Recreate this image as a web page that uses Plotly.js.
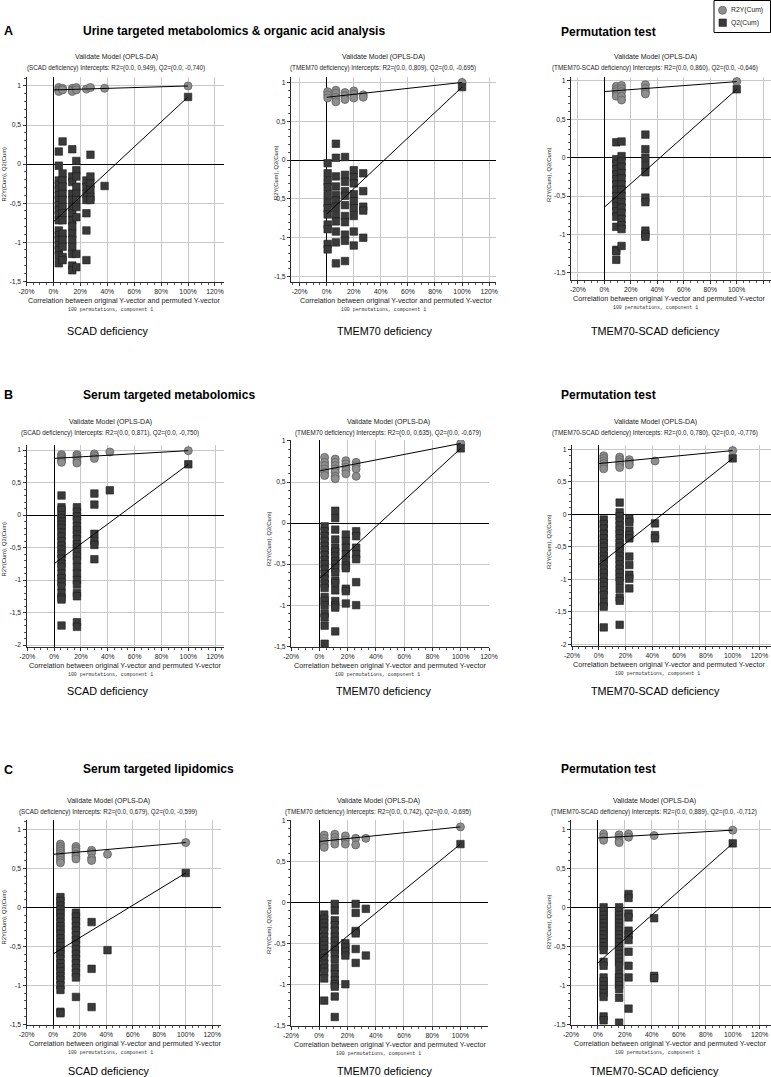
<!DOCTYPE html>
<html>
<head>
<meta charset="utf-8">
<script src="https://cdn.plot.ly/plotly-3.0.1.min.js"></script>
<style>
  html, body { margin: 0; padding: 0; background: #fff; }
  #chart { width: 771px; height: 1077px; }
</style>
</head>
<body>
<div id="chart"></div>
<script>
// ---------------- tick labels ----------------
const xTickVals = [-0.2, 0, 0.2, 0.4, 0.6, 0.8, 1, 1.2];
const xTickText = ['-20%', '0%', '20%', '40%', '60%', '80%', '100%', '120%'];
const yTickVals = [-2, -1.5, -1, -0.5, 0, 0.5, 1];
const yTickText = ['-2', '-1,5', '-1', '-0,5', '0', '0,5', '1'];

const groupNames = ['SCAD deficiency', 'TMEM70 deficiency', 'TMEM70-SCAD deficiency'];
const sectionTitles = ['Urine targeted metabolomics & organic acid analysis', 'Serum targeted metabolomics', 'Serum targeted lipidomics'];
const rowLetters = ['A', 'B', 'C'];

// ---------------- urine targeted metabolomics ----------------
// correlation between original and permuted Y (one entry per column of permutations)
const uScadPerm = [0.04, 0.068, 0.14, 0.17, 0.245, 0.275, 0.38];
const uScadR2 = [[0.98, 0.95, 0.93], [0.97, 0.95], [0.97, 0.95, 0.93], [0.98, 0.95], [0.96], [0.98], [0.97]];
const uScadQ2 = [
  [0.16, -0.02, -0.21, -0.27, -0.33, -0.4, -0.46, -0.53, -0.59, -0.65, -0.72, -0.85, -0.91, -0.97, -1.04, -1.1, -1.17, -1.27],
  [0.29, -0.12, -0.21, -0.29, -0.38, -0.46, -0.55, -0.63, -0.72, -0.89, -0.97, -1.06, -1.19, -1.23],
  [0.19, -0.16, -0.23, -0.38, -0.46, -0.55, -0.63, -0.72, -0.8, -0.89, -0.97, -1.06, -1.15, -1.3, -1.36],
  [0.04, -0.08, -0.16, -0.29, -0.38, -0.46, -0.55, -0.68, -1.15, -1.32],
  [-0.21, -0.29, -0.38, -0.46, -0.63, -0.85, -1.23],
  [0.12, -0.16, -0.25, -0.33, -0.42, -0.46],
  [-0.28]
];
const uScadModel = [1.0, 0.86];      // R2Y(cum), Q2(cum) of the original model
const uScadIcpt = [0.949, -0.740];   // regression intercepts R2, Q2

const uTmemPerm = [0.007, 0.068, 0.135, 0.2, 0.27];
const uTmemR2 = [[0.88, 0.84, 0.8], [0.9, 0.86, 0.81, 0.75], [0.87, 0.83, 0.78], [0.89, 0.85, 0.8], [0.84, 0.81]];
const uTmemQ2 = [
  [-0.04, -0.17, -0.27, -0.35, -0.45, -0.55, -0.62, -0.7, -0.83, -0.89, -1.08, -1.15],
  [0.21, 0.03, -0.21, -0.34, -0.45, -0.52, -0.6, -0.7, -0.79, -0.92, -1.06, -1.33],
  [0.04, -0.19, -0.28, -0.4, -0.46, -0.58, -0.72, -0.8, -0.96, -1.04, -1.3],
  [-0.13, -0.22, -0.3, -0.44, -0.53, -0.62, -0.72, -0.92, -1.1],
  [-0.17, -0.4, -0.6, -0.65, -1.0]
];
const uTmemModel = [1.0, 0.94];
const uTmemIcpt = [0.809, -0.695];

const uBothPerm = [0.09, 0.13, 0.31];
const uBothR2 = [[0.93, 0.89, 0.86, 0.83, 0.8], [0.94, 0.9, 0.86, 0.8, 0.75], [0.95, 0.9, 0.86, 0.83]];
const uBothQ2 = [
  [0.2, -0.02, -0.08, -0.15, -0.22, -0.28, -0.35, -0.42, -0.5, -0.57, -0.63, -0.7, -0.77, -0.9, -1.2, -1.22, -1.33],
  [0.21, 0.02, -0.05, -0.12, -0.2, -0.27, -0.35, -0.42, -0.5, -0.58, -0.65, -0.72, -0.8, -0.88, -0.93, -1.15],
  [0.3, 0.11, 0.0, -0.1, -0.19, -0.52, -0.58, -0.95, -1.0, -1.03]
];
const uBothModel = [0.99, 0.89];
const uBothIcpt = [0.860, -0.646];

// ---------------- serum targeted metabolomics ----------------
const sScadPerm = [0.055, 0.17, 0.3, 0.415];
const sScadR2 = [[0.93, 0.9, 0.87, 0.84, 0.81], [0.93, 0.9, 0.87, 0.83, 0.8], [0.94, 0.91, 0.87], [0.97]];
const sScadQ2 = [
  [0.3, 0.12, 0.08, 0, -0.05, -0.1, -0.15, -0.2, -0.27, -0.33, -0.4, -0.47, -0.53, -0.6, -0.67, -0.75, -0.8, -0.9, -0.97, -1.03, -1.1, -1.2, -1.27, -1.3, -1.7],
  [0.12, 0.05, -0.02, -0.08, -0.17, -0.23, -0.3, -0.37, -0.45, -0.5, -0.57, -0.63, -0.7, -0.8, -0.9, -1.0, -1.07, -1.2, -1.25, -1.65, -1.72],
  [0.33, 0.16, -0.29, -0.4, -0.46, -0.68],
  [0.38]
];
const sScadModel = [0.99, 0.78];
const sScadIcpt = [0.871, -0.750];

const sTmemPerm = [0.037, 0.112, 0.187, 0.26];
const sTmemR2 = [[0.8, 0.74, 0.7, 0.66, 0.62, 0.58], [0.78, 0.74, 0.7, 0.66, 0.62, 0.57, 0.54], [0.76, 0.72, 0.68, 0.64, 0.6], [0.74, 0.7, 0.66, 0.57]];
const sTmemQ2 = [
  [-0.04, -0.1, -0.16, -0.22, -0.28, -0.33, -0.39, -0.45, -0.5, -0.56, -0.62, -0.68, -0.74, -0.79, -0.9, -0.95, -1.0, -1.1, -1.15, -1.25, -1.47],
  [0.15, 0.06, -0.08, -0.2, -0.3, -0.35, -0.4, -0.46, -0.5, -0.55, -0.6, -0.7, -0.73, -0.82, -0.95, -1.0, -1.03, -1.32],
  [-0.14, -0.22, -0.3, -0.38, -0.45, -0.52, -0.55, -0.8, -0.83, -0.98],
  [-0.1, -0.16, -0.3, -0.38, -0.44, -0.72, -1.0]
];
const sTmemModel = [0.97, 0.91];
const sTmemIcpt = [0.635, -0.679];

const sBothPerm = [0.037, 0.156, 0.228, 0.42];
const sBothR2 = [[0.9, 0.86, 0.82, 0.78, 0.74, 0.7], [0.88, 0.84, 0.8, 0.76, 0.72], [0.84, 0.8, 0.76], [0.82]];
const sBothQ2 = [
  [-0.08, -0.15, -0.22, -0.3, -0.37, -0.44, -0.5, -0.57, -0.64, -0.7, -0.77, -0.84, -0.9, -0.97, -1.04, -1.1, -1.17, -1.24, -1.35, -1.42, -1.74],
  [0.18, 0.03, -0.03, -0.1, -0.17, -0.24, -0.3, -0.37, -0.44, -0.5, -0.57, -0.64, -0.7, -0.77, -0.84, -0.9, -0.97, -1.03, -1.15, -1.28, -1.33, -1.7],
  [-0.07, -0.12, -0.25, -0.32, -0.37, -0.65, -0.78, -0.93, -0.99, -1.14],
  [-0.14, -0.32, -0.37]
];
const sBothModel = [0.98, 0.86];
const sBothIcpt = [0.780, -0.776];

// ---------------- serum targeted lipidomics ----------------
const lScadPerm = [0.055, 0.172, 0.29, 0.41];
const lScadR2 = [[0.81, 0.78, 0.75, 0.72, 0.69, 0.66, 0.63, 0.6, 0.57], [0.78, 0.75, 0.72, 0.68, 0.65, 0.62], [0.73, 0.7, 0.63, 0.6], [0.68]];
const lScadQ2 = [
  [0.13, 0.08, 0.02, -0.03, -0.08, -0.13, -0.19, -0.24, -0.29, -0.34, -0.4, -0.45, -0.5, -0.55, -0.6, -0.66, -0.72, -0.77, -0.82, -0.88, -0.93, -1.0, -1.06, -1.34, -1.36],
  [-0.07, -0.12, -0.18, -0.24, -0.3, -0.36, -0.42, -0.48, -0.54, -0.6, -0.66, -0.72, -0.78, -0.84, -0.9, -1.15],
  [-0.19, -0.79, -1.28],
  [-0.55]
];
const lScadModel = [0.83, 0.44];
const lScadIcpt = [0.679, -0.599];

const lTmemPerm = [0.035, 0.11, 0.185, 0.258, 0.33];
const lTmemR2 = [[0.82, 0.78, 0.74, 0.7, 0.67], [0.83, 0.79, 0.75, 0.71], [0.81, 0.76, 0.71], [0.78, 0.7], [0.78]];
const lTmemQ2 = [
  [-0.15, -0.2, -0.25, -0.3, -0.35, -0.42, -0.47, -0.52, -0.57, -0.62, -0.68, -0.75, -0.8, -0.85, -0.93, -1.2],
  [-0.02, -0.1, -0.22, -0.28, -0.35, -0.42, -0.47, -0.53, -0.58, -0.63, -0.7, -0.8, -0.88, -0.95, -1.0, -1.03, -1.15, -1.4],
  [-0.5, -0.55, -0.6, -0.65, -1.0],
  [-0.02, -0.13, -0.35, -0.38, -0.57, -0.74],
  [-0.08, -0.65]
];
const lTmemModel = [0.92, 0.71];
const lTmemIcpt = [0.742, -0.695];

const lBothPerm = [0.042, 0.157, 0.227, 0.417];
const lBothR2 = [[0.94, 0.9, 0.86], [0.93, 0.89, 0.85, 0.83], [0.94, 0.9], [0.92]];
const lBothQ2 = [
  [0, -0.05, -0.1, -0.15, -0.2, -0.25, -0.3, -0.35, -0.4, -0.45, -0.5, -0.55, -0.7, -0.75, -0.9, -0.95, -1.0, -1.05, -1.1, -1.15, -1.4, -1.45],
  [0, -0.05, -0.1, -0.15, -0.2, -0.25, -0.3, -0.35, -0.4, -0.45, -0.5, -0.55, -0.6, -0.65, -0.7, -0.75, -0.85, -0.9, -0.95, -1.0, -1.05, -1.16, -1.48],
  [0.17, 0.12, -0.08, -0.13, -0.3, -0.35, -0.42, -0.57, -0.75, -0.9, -1.3],
  [-0.14, -0.88, -0.91]
];
const lBothModel = [0.99, 0.82];
const lBothIcpt = [0.889, -0.712];

// ---------------- panel table (row-major: A1..A3, B1..B3, C1..C3) ----------------
const panels = [
  { perm: uScadPerm, r2: uScadR2, q2: uScadQ2, model: uScadModel, icpt: uScadIcpt, group: 0 },
  { perm: uTmemPerm, r2: uTmemR2, q2: uTmemQ2, model: uTmemModel, icpt: uTmemIcpt, group: 1 },
  { perm: uBothPerm, r2: uBothR2, q2: uBothQ2, model: uBothModel, icpt: uBothIcpt, group: 2 },
  { perm: sScadPerm, r2: sScadR2, q2: sScadQ2, model: sScadModel, icpt: sScadIcpt, group: 0 },
  { perm: sTmemPerm, r2: sTmemR2, q2: sTmemQ2, model: sTmemModel, icpt: sTmemIcpt, group: 1 },
  { perm: sBothPerm, r2: sBothR2, q2: sBothQ2, model: sBothModel, icpt: sBothIcpt, group: 2 },
  { perm: lScadPerm, r2: lScadR2, q2: lScadQ2, model: lScadModel, icpt: lScadIcpt, group: 0 },
  { perm: lTmemPerm, r2: lTmemR2, q2: lTmemQ2, model: lTmemModel, icpt: lTmemIcpt, group: 1 },
  { perm: lBothPerm, r2: lBothR2, q2: lBothQ2, model: lBothModel, icpt: lBothIcpt, group: 2 }
];

// ---------------- page geometry (pixels) ----------------
const W = 771, H = 1077;
const frames = [
  { l: 26.5, r: 224, t: 77,  b: 282,  xr: [-0.2, 1.267],   yr: [-1.51, 1.115] },
  { l: 291,  r: 496, t: 77,  b: 282,  xr: [-0.264, 1.251], yr: [-1.57, 1.07] },
  { l: 571,  r: 771, t: 77,  b: 280,  xr: [-0.252, 1.259], yr: [-1.593, 1.05] },
  { l: 26.5, r: 224, t: 445, b: 647,  xr: [-0.206, 1.266], yr: [-2.03, 1.077] },
  { l: 291,  r: 489, t: 440, b: 647,  xr: [-0.201, 1.2],   yr: [-1.51, 1.012] },
  { l: 572,  r: 771, t: 445, b: 646,  xr: [-0.2, 1.286],   yr: [-2.026, 1.066] },
  { l: 26.5, r: 221, t: 820, b: 1025, xr: [-0.201, 1.266], yr: [-1.51, 1.119] },
  { l: 291,  r: 488, t: 820, b: 1026, xr: [-0.2, 1.195],   yr: [-1.51, 1.004] },
  { l: 571,  r: 771, t: 820, b: 1025, xr: [-0.2, 1.284],   yr: [-1.51, 1.12] }
];
// text anchors for each panel
const titleX   = [116, 383, 655, 110, 388, 655, 108, 378, 654];
const xTitleX  = [124, 396, 669, 125, 390, 669, 125, 390, 670];
const noteX    = [111, 383, 655, 111, 377, 657, 110, 378, 657];
const captionX = [108, 384, 655, 108, 383, 655, 109, 384, 654];
const yTitleX  = [3.5, 276, 549, 3.5, 269, 549, 3.5, 269, 549];
const yTitleY  = [174, 173, 175, 549, 539, 542, 917, 927, 922];
const rowTitleY = [[57, 68], [421.7, 432.7], [801, 811.5]];
const rowCaptionY = [331, 691, 1070.7];
const rowHeadY = [31, 395, 770];

const SIMCA_FONT = 'Liberation Sans, Arial, sans-serif';
const HEAD_FONT = 'Liberation Sans, Arial, sans-serif';

const px = v => v / W;
const py = v => 1 - v / H;
const comma = v => v.toFixed(3).replace('.', ',');

function note(x, y, text, size, extra) {
  return Object.assign({
    xref: 'paper', yref: 'paper', x: px(x), y: py(y), text: text,
    showarrow: false, xanchor: 'center', yanchor: 'middle',
    font: { family: SIMCA_FONT, size: size, color: '#1a1a1a' }
  }, extra || {});
}

const traces = [];
const layout = {
  width: W, height: H,
  margin: { l: 0, r: 0, t: 0, b: 0 },
  paper_bgcolor: '#fff', plot_bgcolor: '#fff',
  showlegend: false,
  annotations: [], shapes: []
};

panels.forEach((p, i) => {
  const f = frames[i];
  const sfx = i === 0 ? '' : String(i + 1);
  const xa = 'x' + sfx, ya = 'y' + sfx;

  // flatten permutation columns; the original model sits at 100 %
  const r2x = [], r2y = [], q2x = [], q2y = [];
  p.perm.forEach((c, k) => {
    p.r2[k].forEach(v => { r2x.push(c); r2y.push(v); });
    p.q2[k].forEach(v => { q2x.push(c); q2y.push(v); });
  });
  r2x.push(1); r2y.push(p.model[0]);
  q2x.push(1); q2y.push(p.model[1]);

  traces.push({
    type: 'scatter', mode: 'markers', name: 'R2Y(Cum)', x: r2x, y: r2y, xaxis: xa, yaxis: ya,
    marker: { symbol: 'circle', size: 8, color: '#8e8e8e', line: { color: '#5f5f5f', width: 0.8 } },
    hoverinfo: 'skip'
  });
  traces.push({
    type: 'scatter', mode: 'markers', name: 'Q2(Cum)', x: q2x, y: q2y, xaxis: xa, yaxis: ya,
    marker: { symbol: 'square', size: 7.5, color: '#3a3a3a', line: { color: '#1c1c1c', width: 0.6 } },
    hoverinfo: 'skip'
  });
  // regression lines from the intercepts to the original model
  traces.push({
    type: 'scatter', mode: 'lines', x: [0, 1], y: [p.icpt[0], p.model[0]], xaxis: xa, yaxis: ya,
    line: { color: '#000', width: 1 }, hoverinfo: 'skip'
  });
  traces.push({
    type: 'scatter', mode: 'lines', x: [0, 1], y: [p.icpt[1], p.model[1]], xaxis: xa, yaxis: ya,
    line: { color: '#000', width: 1 }, hoverinfo: 'skip'
  });

  const common = {
    showline: true, linecolor: '#2a2a2a', linewidth: 1,
    showgrid: true, gridcolor: '#c8c8c8', gridwidth: 1,
    zeroline: true, zerolinecolor: '#000', zerolinewidth: 1,
    ticks: 'outside', ticklen: 3, tickwidth: 1, tickcolor: '#333',
    tickfont: { family: SIMCA_FONT, size: 6.8, color: '#1a1a1a' },
    fixedrange: true, tickmode: 'array'
  };
  layout['xaxis' + sfx] = Object.assign({}, common, {
    domain: [px(f.l), px(f.r)], range: f.xr, anchor: ya,
    tickvals: xTickVals, ticktext: xTickText,
    minor: { tickmode: 'linear', tick0: 0, dtick: 0.05, ticks: 'outside', ticklen: 2, tickcolor: '#555', showgrid: false }
  });
  layout['yaxis' + sfx] = Object.assign({}, common, {
    domain: [py(f.b), py(f.t)], range: f.yr, anchor: xa,
    tickvals: yTickVals, ticktext: yTickText,
    minor: { tickmode: 'linear', tick0: 0, dtick: 0.1, ticks: 'outside', ticklen: 2, tickcolor: '#555', showgrid: false }
  });

  const row = Math.floor(i / 3);
  const gname = groupNames[p.group];
  layout.annotations.push(
    note(titleX[i], rowTitleY[row][0], 'Validate Model (OPLS-DA)', 7),
    note(titleX[i], rowTitleY[row][1],
      '(' + gname + ') Intercepts: R2=(0.0, ' + comma(p.icpt[0]) + '), Q2=(0.0, ' + comma(p.icpt[1]) + ')', 6.3),
    note(xTitleX[i], f.b + 18.5, 'Correlation between original Y-vector and permuted Y-vector', 7.2),
    note(noteX[i], f.b + 27, '100 permutations, component 1', 4.9,
      { font: { family: 'Liberation Mono, Courier New, monospace', size: 4.9, color: '#333' } }),
    note(yTitleX[i], yTitleY[i], 'R2Y(Cum), Q2(Cum)', 5.8, { textangle: -90 }),
    note(captionX[i], rowCaptionY[row], gname, 10.8,
      { font: { family: HEAD_FONT, size: 10.8, color: '#000' } })
  );
});

// row letters, section headings and "Permutation test" headings
rowLetters.forEach((letter, r) => {
  const y = rowHeadY[r];
  layout.annotations.push(
    note(1.5, y, '<b>' + letter + '</b>', 12.5,
      { xanchor: 'left', font: { family: HEAD_FONT, size: 12.5, color: '#000' } }),
    note(80.5, y - (r === 2 ? 1 : 0), '<b>' + sectionTitles[r] + '</b>', 12,
      { xanchor: 'left', font: { family: HEAD_FONT, size: 12, color: '#000' } }),
    note(559, y + (r === 0 ? 0.5 : 0) - (r === 2 ? 1 : 0), '<b>Permutation test</b>', 12,
      { xanchor: 'left', font: { family: HEAD_FONT, size: 12, color: '#000' } })
  );
});

// key box in the top right corner
layout.shapes.push(
  { type: 'rect', xref: 'paper', yref: 'paper', x0: px(714), x1: px(770.5), y0: py(32.5), y1: py(0.5),
    line: { color: '#000', width: 1 }, fillcolor: '#fff' },
  { type: 'circle', xref: 'paper', yref: 'paper', x0: px(718.5), x1: px(726.5), y0: py(14.3), y1: py(6.3),
    line: { color: '#5f5f5f', width: 0.8 }, fillcolor: '#8e8e8e' },
  { type: 'rect', xref: 'paper', yref: 'paper', x0: px(719), x1: px(726.4), y0: py(26.4), y1: py(19),
    line: { color: '#1c1c1c', width: 0.6 }, fillcolor: '#3a3a3a' }
);
layout.annotations.push(
  note(728.5, 10.3, 'R2Y(Cum)', 6.8, { xanchor: 'left' }),
  note(728.5, 22.7, 'Q2(Cum)', 6.8, { xanchor: 'left' })
);

Plotly.newPlot('chart', traces, layout, { staticPlot: true, displayModeBar: false });
</script>
</body>
</html>
